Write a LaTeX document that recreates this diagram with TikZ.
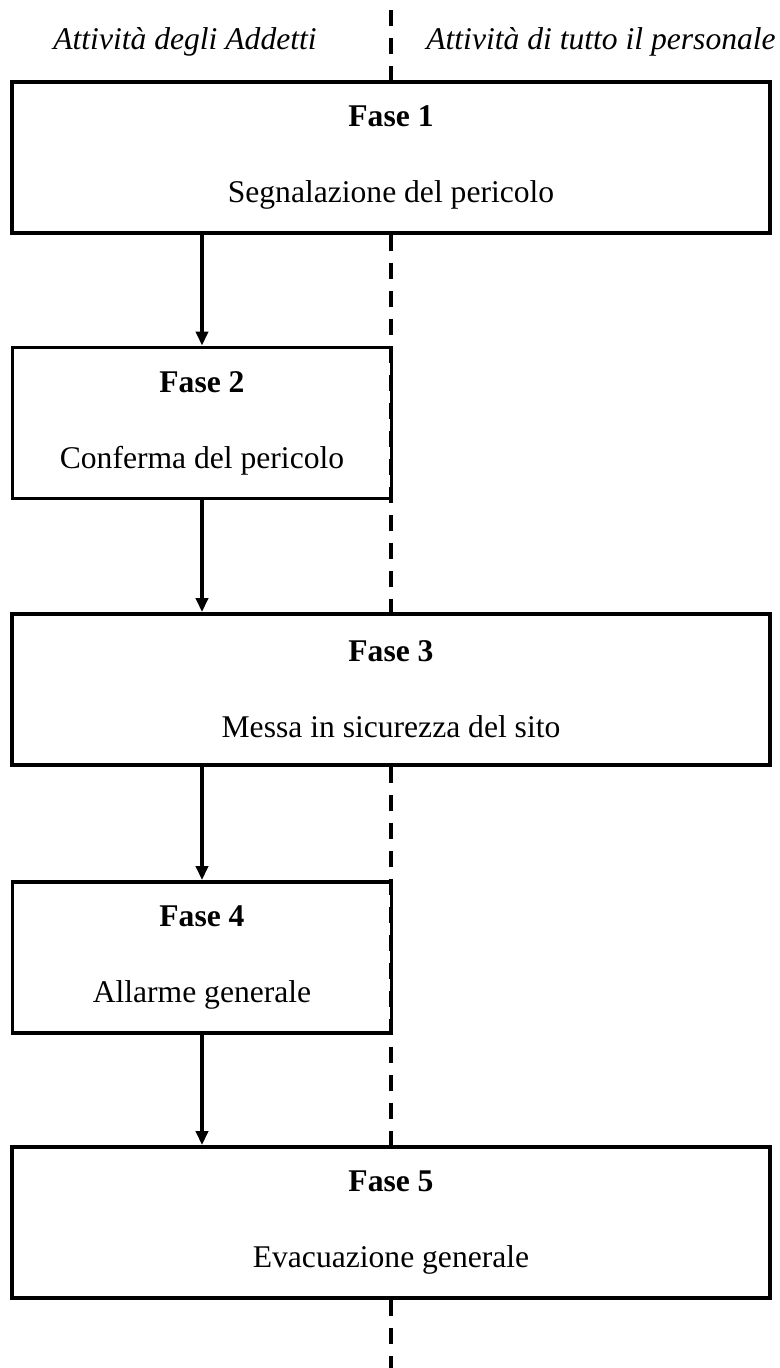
\documentclass[tikz,border=0pt]{standalone}
\usepackage{fontspec}
\setmainfont{Liberation Serif}
\usetikzlibrary{arrows.meta}

\begin{document}
\begin{tikzpicture}[x=0.5pt,y=-0.5pt,
        font=\fontsize{15.8}{19}\selectfont,
        fase/.style={draw,line width=1.9pt,fill=white,align=center,minimum height=75.5pt,inner sep=0pt},
        larga/.style={fase,minimum width=379pt},
        stretta/.style={fase,minimum width=189.5pt},
        freccia/.style={-{Triangle[length=7pt,width=6pt]},line width=1.9pt},
        divisore/.style={line width=1.9pt,dash pattern=on 8pt off 6pt}]
        \useasboundingbox (0,0) rectangle (780,1368);
        \coordinate (cima) at (391,10);
        \coordinate (fondo) at (391,1368);
        \node (addetti) at (185,42) {\itshape Attività degli Addetti};
        \node (personale) at (601,42) {\itshape Attività di tutto il personale};
        \node[larga] (f1) at (391,157.5) {\textbf{Fase 1}\\[19pt]Segnalazione del pericolo};
        \node[stretta] (f2) at (202,423) {\textbf{Fase 2}\\[19pt]Conferma del pericolo};
        \node[larga] (f3) at (391,689.5) {\textbf{Fase 3}\\[19pt]Messa in sicurezza del sito};
        \node[stretta] (f4) at (202,957.5) {\textbf{Fase 4}\\[19pt]Allarme generale};
        \node[larga] (f5) at (391,1222.5) {\textbf{Fase 5}\\[19pt]Evacuazione generale};
        \draw[divisore] (cima) -- (f1.north);
        \draw[divisore] (f1.south) -- (f3.north);
        \draw[divisore] (f3.south) -- (f5.north);
        \draw[divisore] (f5.south) -- (fondo);
        \draw[freccia] (f1.south -| f2.north) -- (f2.north);
        \draw[freccia] (f2.south) -- (f3.north -| f2.south);
        \draw[freccia] (f3.south -| f4.north) -- (f4.north);
        \draw[freccia] (f4.south) -- (f5.north -| f4.south);
    \end{tikzpicture}
\end{document}
